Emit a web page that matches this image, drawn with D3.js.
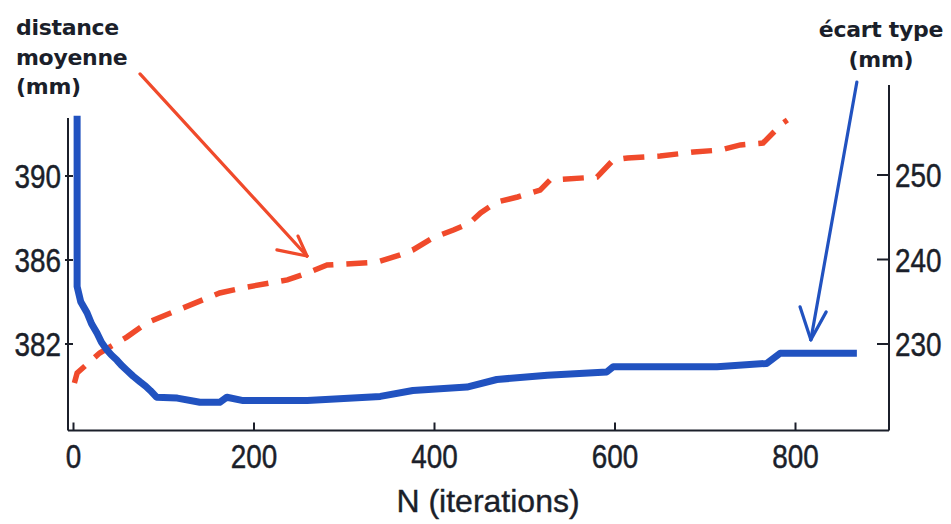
<!DOCTYPE html>
<html><head><meta charset="utf-8">
<script src="https://cdn.jsdelivr.net/npm/d3@7"></script>
<style>body{margin:0;background:#fff} svg{display:block}</style>
</head><body><svg id="c" width="951" height="524"></svg>
<script>
// écart type (right axis, mm) vs N
const sdN     = [4, 4, 8, 15, 20, 26, 31, 37, 42, 48, 53, 59, 66, 74, 80, 85, 92, 115, 140, 162, 170, 188, 259, 340, 376, 436, 469, 525, 591, 598, 713, 768, 783, 868];
const ecartType = [257, 236.8, 235.0, 233.7, 232.4, 231.3, 230.2, 229.3, 228.7, 228.1, 227.5, 226.9, 226.2, 225.5, 225.0, 224.5, 223.7, 223.6, 223.1, 223.1, 223.7, 223.3, 223.3, 223.8, 224.5, 224.9, 225.8, 226.3, 226.7, 227.3, 227.3, 227.7, 228.9, 228.9];
// distance moyenne (left axis, mm) vs N
const meanN = [1, 4, 29, 59, 81, 121, 162, 192, 237, 259, 281, 336, 362, 376, 398, 421, 439, 451, 469, 492, 517, 528, 580, 598, 614, 650, 687, 717, 739, 764, 775, 786, 791];
const distanceMoyenne = [380.14, 380.62, 381.57, 382.33, 383.0, 383.71, 384.43, 384.71, 385.05, 385.38, 385.76, 385.90, 386.24, 386.48, 387.05, 387.43, 387.76, 388.24, 388.76, 389.0, 389.33, 389.81, 389.95, 390.76, 390.86, 390.95, 391.14, 391.24, 391.48, 391.57, 392.05, 392.52, 392.67];
const xTicks = [0, 200, 400, 600, 800];
const leftTicks = [382, 386, 390];
const rightTicks = [230, 240, 250];
const leftLabel = ["distance", "moyenne", "(mm)"];
const rightLabel = ["écart type", "(mm)"];
const xTitle = "N (iterations)";

const svg = d3.select("#c");
const x = d3.scaleLinear().domain([0, 800]).range([73.5, 795.5]);
const yL = d3.scaleLinear().domain([382, 390]).range([344, 176]);
const yR = d3.scaleLinear().domain([230, 250]).range([344, 175]);

const ink = "#1b1f2a";
const blue = "#2152c0";
const red = "#f04a2b";
const tickFont = "'Liberation Sans',Arial,sans-serif";
const narrow = 0.82;

// frame lines
const xLeft = 68, xRight = 889, yBottom = 430.5;
svg.append("line").attr("x1", xLeft).attr("x2", xRight).attr("y1", yBottom).attr("y2", yBottom).attr("stroke", ink).attr("stroke-width", 2);
svg.append("line").attr("x1", xLeft).attr("x2", xLeft).attr("y1", 118).attr("y2", yBottom).attr("stroke", ink).attr("stroke-width", 2);
svg.append("line").attr("x1", xRight).attr("x2", xRight).attr("y1", 85).attr("y2", yBottom).attr("stroke", ink).attr("stroke-width", 2);

function tickText(sel) {
  sel.attr("font-family", tickFont).attr("font-size", 34).attr("fill", ink)
     .attr("stroke", ink).attr("stroke-width", 0.5).text(d => d);
}

// x ticks
const gx = svg.append("g");
gx.selectAll("line").data(xTicks).join("line")
  .attr("x1", d => x(d)).attr("x2", d => x(d)).attr("y1", yBottom - 8).attr("y2", yBottom)
  .attr("stroke", ink).attr("stroke-width", 2);
gx.selectAll("text").data(xTicks).join("text")
  .attr("transform", d => `translate(${x(d)},468) scale(${narrow},1)`).attr("text-anchor", "middle")
  .call(tickText);

// left ticks
const gl = svg.append("g");
gl.selectAll("line").data(leftTicks).join("line")
  .attr("x1", xLeft - 3).attr("x2", xLeft + 5).attr("y1", d => yL(d)).attr("y2", d => yL(d))
  .attr("stroke", ink).attr("stroke-width", 2);
gl.selectAll("text").data(leftTicks).join("text")
  .attr("transform", d => `translate(61,${yL(d) + 12}) scale(${narrow},1)`).attr("text-anchor", "end")
  .call(tickText);

// right ticks
const gr = svg.append("g");
gr.selectAll("line").data(rightTicks).join("line")
  .attr("x1", xRight - 12).attr("x2", xRight).attr("y1", d => yR(d)).attr("y2", d => yR(d))
  .attr("stroke", ink).attr("stroke-width", 2);
gr.selectAll("text").data(rightTicks).join("text")
  .attr("transform", d => `translate(895,${yR(d) + 12}) scale(${narrow},1)`).attr("text-anchor", "start")
  .call(tickText);

// x title
svg.append("text").attr("x", 488).attr("y", 512).attr("text-anchor", "middle")
  .attr("font-family", "'Liberation Sans',Arial,sans-serif").attr("font-size", 32).attr("fill", ink)
  .attr("stroke", ink).attr("stroke-width", 0.4).text(xTitle);

// series
const sdData = sdN.map((n, i) => [n, ecartType[i]]);
const meanData = meanN.map((n, i) => [n, distanceMoyenne[i]]);

svg.append("path").datum(meanData)
  .attr("d", d3.line().x(d => x(d[0])).y(d => yL(d[1])))
  .attr("fill", "none").attr("stroke", red).attr("stroke-width", 5.5)
  .attr("stroke-dasharray", "21 13");

svg.append("path").datum(sdData)
  .attr("d", d3.line().x(d => x(d[0])).y(d => yR(d[1])))
  .attr("fill", "none").attr("stroke", blue).attr("stroke-width", 7).attr("stroke-linejoin", "round");

// axis labels
const boldFont = "'DejaVu Sans',Verdana,sans-serif";
svg.append("text").attr("font-family", boldFont).attr("font-weight", "bold").attr("font-size", 22)
  .attr("fill", ink).attr("letter-spacing", -0.3)
  .selectAll("tspan").data(leftLabel).join("tspan")
  .attr("x", 16).attr("y", (d, i) => 35 + i * 29.5).text(d => d);
svg.append("text").attr("font-family", boldFont).attr("font-weight", "bold").attr("font-size", 22)
  .attr("fill", ink).attr("letter-spacing", -0.3).attr("text-anchor", "middle")
  .selectAll("tspan").data(rightLabel).join("tspan")
  .attr("x", 881).attr("y", (d, i) => 37 + i * 29.5).text(d => d);

// annotation arrows (positioned in data space)
function arrow(n0, v0, n1, v1, ys, w1, w2, color) {
  const p0 = [x(n0), ys(v0)], p1 = [x(n1), ys(v1)];
  const g = svg.append("g").attr("stroke", color).attr("stroke-width", 3.2).attr("fill", "none").attr("stroke-linecap", "round");
  g.append("line").attr("x1", p0[0]).attr("y1", p0[1]).attr("x2", p1[0]).attr("y2", p1[1]);
  [w1, w2].forEach(w => g.append("line").attr("x1", x(w[0])).attr("y1", ys(w[1])).attr("x2", p1[0]).attr("y2", p1[1]));
}
arrow(73.7, 394.86, 258.7, 386.19, yL, [225.4, 386.48], [248.8, 387.14], red);
arrow(868, 261.0, 817, 230.5, yR, [805, 234.4], [834, 233.8], blue);
</script></body></html>
